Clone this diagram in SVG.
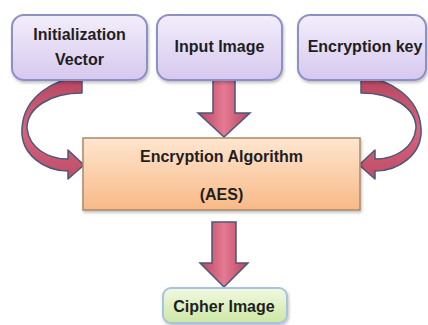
<svg xmlns="http://www.w3.org/2000/svg" width="428" height="325" viewBox="0 0 428 325">
<defs>
<linearGradient id="gPurple" x1="0" y1="0" x2="0" y2="1">
<stop offset="0" stop-color="#f3eefb"/>
<stop offset="1" stop-color="#d6c8ee"/>
</linearGradient>
<linearGradient id="gOrange" x1="0" y1="0" x2="0" y2="1">
<stop offset="0" stop-color="#fee6cf"/>
<stop offset="1" stop-color="#f8b987"/>
</linearGradient>
<linearGradient id="gGreen" x1="0" y1="0" x2="0" y2="1">
<stop offset="0" stop-color="#f1f9e2"/>
<stop offset="1" stop-color="#cde7a4"/>
</linearGradient>
<linearGradient id="gArrowV" x1="0" y1="0" x2="1" y2="0">
<stop offset="0" stop-color="#b9445f"/>
<stop offset="0.5" stop-color="#e57a93"/>
<stop offset="1" stop-color="#b9445f"/>
</linearGradient>
<linearGradient id="gArrowC" x1="0" y1="0" x2="0" y2="1">
<stop offset="0" stop-color="#b54660"/>
<stop offset="0.5" stop-color="#d8647e"/>
<stop offset="1" stop-color="#c04d68"/>
</linearGradient>
<filter id="sh" x="-10%" y="-10%" width="120%" height="130%">
<feDropShadow dx="1" dy="2" stdDeviation="1.5" flood-color="#000" flood-opacity="0.25"/>
</filter>
</defs>
<style>
.box-p { fill: url(#gPurple); stroke: #8d90c4; stroke-width: 2; }
.box-o { fill: url(#gOrange); stroke: #a98a6a; stroke-width: 1.5; }
.box-g { fill: url(#gGreen); stroke: #a6c3df; stroke-width: 2; }
.arr-v { fill: url(#gArrowV); stroke: #4a5878; stroke-width: 1.5; stroke-linejoin: miter; }
.arr-c { fill: url(#gArrowC); stroke: #4a5878; stroke-width: 1.5; stroke-linejoin: round; }
.t { font-family: "Liberation Sans", Arial, sans-serif; font-weight: bold; font-size: 16px; fill: #1e1e1e; text-anchor: middle; }
</style>

<g id="connectors">
<path class="arr-v" d="M213,79 L235,79 L235,113 L250,113 L224,137 L198,113 L213,113 Z"/>
<path class="arr-v" d="M212,222 L236,222 L236,263 L248,263 L224,287 L200,263 L212,263 Z"/>
<path class="arr-c" d="M82,78 C55,78 24,96 22,128 C20,155 45,171 68,171 L68,179 L84,165 L68,150 L68,159 C48,159 29,148 27,128 C27,108 50,93 82,93 Z"/>
<path class="arr-c" transform="translate(443,0) scale(-1,1)" d="M82,78 C55,78 24,96 22,128 C20,155 45,171 68,171 L68,179 L84,165 L68,150 L68,159 C48,159 29,148 27,128 C27,108 50,93 82,93 Z"/>
</g>

<g id="iv">
<rect class="box-p" x="12" y="15" width="135" height="65" rx="12" filter="url(#sh)"/>
<text class="t" x="79.5" y="40">Initialization</text>
<text class="t" x="79.5" y="65">Vector</text>
</g>

<g id="input">
<rect class="box-p" x="157" y="15" width="125" height="65" rx="12" filter="url(#sh)"/>
<text class="t" x="219.5" y="52">Input Image</text>
</g>

<g id="key">
<rect class="box-p" x="298" y="15" width="128" height="65" rx="12" filter="url(#sh)"/>
<text class="t" x="365" y="52">Encryption key</text>
</g>

<g id="aes">
<rect class="box-o" x="83" y="138" width="277" height="72" filter="url(#sh)"/>
<text class="t" x="221.5" y="162">Encryption Algorithm</text>
<text class="t" x="221.5" y="200">(AES)</text>
</g>

<g id="cipher">
<rect class="box-g" x="163" y="288" width="124" height="35" rx="8" filter="url(#sh)"/>
<text class="t" x="224" y="312">Cipher Image</text>
</g>
</svg>
